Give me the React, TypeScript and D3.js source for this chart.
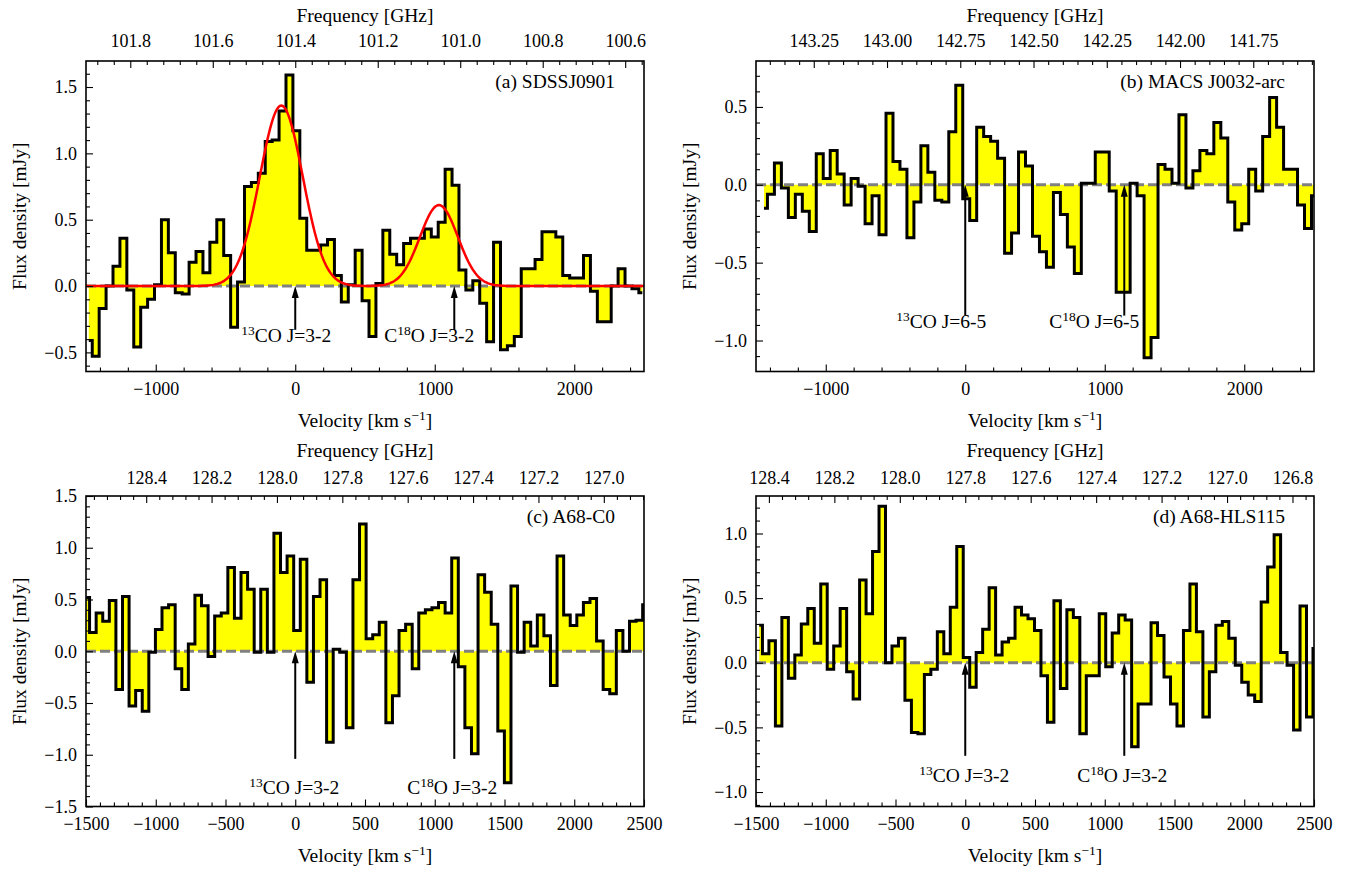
import { useEffect, useRef } from 'react';
import * as d3 from 'd3';

const C_KMS = 299792.458;
const VELOCITY_RANGE = [-1500, 2500];
const FONT = "'Liberation Serif', 'Times New Roman', serif";
const TICK_SIZE = 18;
const LABEL_SIZE = 19.5;

// spectra in mJy, one value per channel
const fluxSDSSJ0901 = [
  -0.41, -0.53, -0.17, 0.0, 0.15, 0.36, -0.03, -0.46, -0.16, -0.1,
  0.01, 0.5, 0.25, -0.05, -0.06, 0.18, 0.26, 0.1, 0.33, 0.5,
  0.23, -0.31, 0.03, 0.75, 0.78, 0.85, 1.09, 1.1, 1.32, 1.59,
  1.17, 0.51, 0.27, 0.27, 0.31, 0.35, 0.08, -0.12, 0.01, 0.27,
  -0.11, -0.38, 0.02, 0.42, 0.24, 0.16, 0.32, 0.36, 0.36, 0.43,
  0.37, 0.48, 0.88, 0.76, 0.12, -0.03, 0.04, -0.13, -0.42, 0.33,
  -0.48, -0.45, -0.38, 0.13, 0.13, 0.2, 0.41, 0.41, 0.37, 0.08,
  0.06, 0.06, 0.23, -0.04, -0.27, -0.27, 0.0, 0.13, 0.0, -0.02,
  -0.05,
];
const fluxMACS0032 = [
  -0.15, -0.06, 0.14, -0.02, -0.21, -0.06, -0.17, -0.3, 0.2, 0.04,
  0.22, 0.07, -0.13, 0.04, -0.01, -0.25, -0.07, -0.32, 0.46, 0.15,
  0.1, -0.34, -0.11, 0.25, 0.08, -0.1, -0.11, 0.34, 0.64, -0.09,
  -0.23, 0.37, 0.31, 0.28, 0.17, -0.44, -0.31, 0.21, 0.12, -0.33,
  -0.43, -0.53, -0.05, -0.19, -0.4, -0.57, 0.01, 0.01, 0.21, 0.21,
  -0.04, -0.69, -0.69, 0.01, -0.07, -1.11, -0.98, 0.13, 0.1, 0.01,
  0.45, -0.02, 0.09, 0.22, 0.2, 0.4, 0.3, -0.11, -0.29, -0.25,
  0.1, -0.04, 0.31, 0.56, 0.37, 0.1, 0.1, -0.13, -0.28, -0.07,
];
const fluxA68C0 = [
  0.52, 0.18, 0.37, 0.29, 0.49, -0.37, 0.53, -0.53, -0.38, -0.58,
  -0.01, 0.21, 0.42, 0.45, -0.17, -0.37, 0.07, 0.54, 0.44, -0.05,
  0.34, 0.37, 0.81, 0.32, 0.76, 0.6, -0.01, 0.6, -0.01, 1.14,
  0.76, 0.92, 0.2, 0.89, -0.3, 0.53, 0.69, -0.88, 0.02, -0.01,
  -0.74, 0.69, 1.23, 0.12, 0.16, 0.28, -0.69, -0.43, 0.2, 0.26,
  -0.17, 0.37, 0.4, 0.42, 0.47, 0.37, 0.9, -0.15, -0.74, -0.99,
  0.74, 0.57, 0.26, -0.77, -1.27, 0.63, -0.01, 0.28, 0.05, 0.35,
  0.15, -0.33, 0.92, 0.35, 0.25, 0.35, 0.47, 0.51, 0.1, -0.37,
  -0.41, 0.2, 0.0, 0.29, 0.3, 0.45,
];
const fluxA68HLS115 = [
  0.29, 0.07, 0.17, -0.49, 0.35, -0.12, 0.06, 0.3, 0.42, 0.15,
  0.61, -0.05, 0.13, 0.42, -0.07, -0.28, 0.64, 0.38, 0.86, 1.21,
  0.0, 0.13, 0.19, -0.29, -0.54, -0.55, -0.09, -0.05, 0.24, 0.07,
  0.43, 0.9, 0.04, -0.19, 0.08, 0.26, 0.58, 0.06, 0.16, 0.19,
  0.43, 0.37, 0.34, 0.25, -0.1, -0.46, 0.48, -0.2, 0.41, 0.35,
  -0.55, -0.1, -0.1, 0.38, -0.03, 0.23, 0.37, 0.33, -0.65, -0.32,
  -0.32, 0.31, 0.21, -0.11, -0.32, -0.49, 0.25, 0.61, 0.24, -0.42,
  -0.07, 0.29, 0.32, 0.19, -0.02, -0.15, -0.25, -0.3, 0.47, 0.74,
  0.99, 0.08, -0.02, -0.52, 0.44, -0.42, 0.11,
];

// centre of first channel and channel width, km/s
const firstChannel = [-1480, -1443, -1498, -1477];
const channelWidth = [49.6, 50, 47.2, 46.43];

// gaussian fits to SDSSJ0901 (13CO, C18O)
const fitAmp = [1.36, 0.61];
const fitCentre = [-100, 1030];
const fitSigma = [154, 136];

// 13CO at 0, C18O offset in km/s
const lineVelocity = [0, 1140];

const panelNames = ['(a) SDSSJ0901', '(b) MACS J0032-arc', '(c) A68-C0', '(d) A68-HLS115'];
const transitions = ['J=3-2', 'J=6-5', 'J=3-2', 'J=3-2'];
// observed frequency (GHz) of 13CO at v = 0
const nuZero = [101.4, 142.733, 127.944, 127.8];

const spectra = [fluxSDSSJ0901, fluxMACS0032, fluxA68C0, fluxA68HLS115];

const layout = [
  { left: 86, top: 61, yDomain: [-0.644, 1.696], yTicks: [-0.5, 0, 0.5, 1, 1.5], xStep: 1000, xMinor: 200, fStep: 0.2, fMinor: 0.04, fFmt: '.1f', fPad: 14, tail: -0.33, textY: -0.42, textDx: [-9, -25] },
  { left: 756, top: 61, yDomain: [-1.199, 0.795], yTicks: [-1, -0.5, 0, 0.5], xStep: 1000, xMinor: 200, fStep: 0.25, fMinor: 0.05, fFmt: '.2f', fPad: 14, tail: -0.84, textY: -0.92, textDx: [-24, -30] },
  { left: 86, top: 496, yDomain: [-1.5, 1.5], yTicks: [-1.5, -1, -0.5, 0, 0.5, 1, 1.5], xStep: 500, xMinor: 100, fStep: 0.2, fMinor: 0.04, fFmt: '.1f', fPad: 12.5, tail: -1.04, textY: -1.38, textDx: [-1, -2] },
  { left: 756, top: 496, yDomain: [-1.112, 1.29], yTicks: [-1, -0.5, 0, 0.5, 1], xStep: 500, xMinor: 100, fStep: 0.2, fMinor: 0.04, fFmt: '.1f', fPad: 12.5, tail: -0.72, textY: -0.92, textDx: [-1, -2] },
];
const PANEL_W = 558;
const PANEL_H = 310.5;

const rangeStep = (lo: number, hi: number, step: number) => {
  const out: number[] = [];
  for (let k = Math.ceil(lo / step - 1e-6); k * step <= hi + 1e-6; k++) out.push(+(k * step).toFixed(6));
  return out;
};

const richText = (g: any, x: number, y: number, parts: [string, boolean][], anchor = 'middle') => {
  const t = g.append('text').attr('x', x).attr('y', y).attr('text-anchor', anchor)
    .attr('font-family', FONT).attr('font-size', LABEL_SIZE).attr('fill', '#000');
  let up = false;
  parts.forEach(([s, sup]) => {
    const ts = t.append('tspan').text(s);
    if (sup) {
      ts.attr('font-size', 13.5);
      if (!up) { ts.attr('dy', -7); up = true; }
    } else if (up) {
      ts.attr('dy', 7);
      up = false;
    }
  });
  return t;
};

const styleAxis = (g: any) => {
  g.select('.domain').remove();
  g.attr('font-family', FONT).attr('font-size', TICK_SIZE);
  g.selectAll('line').attr('stroke', '#000').attr('stroke-width', 1.1);
};

function drawPanel(svg: any, i: number) {
  const p = layout[i];
  const flux = spectra[i];
  const right = p.left + PANEL_W;
  const bottom = p.top + PANEL_H;
  const x = d3.scaleLinear().domain(VELOCITY_RANGE).range([p.left, right]);
  const y = d3.scaleLinear().domain(p.yDomain).range([bottom, p.top]);
  const pts: [number, number][] = flux.map((f, k) => [firstChannel[i] + k * channelWidth[i], f]);

  const g = svg.append('g');
  const clipId = `clip-${i}`;
  g.append('clipPath').attr('id', clipId).append('rect')
    .attr('x', p.left).attr('y', p.top).attr('width', PANEL_W).attr('height', PANEL_H);
  const plot = g.append('g').attr('clip-path', `url(#${clipId})`);

  const areaGen = d3.area<[number, number]>().curve(d3.curveStep)
    .x((d) => x(d[0])).y0(y(0)).y1((d) => y(d[1]));
  plot.append('path').datum(pts).attr('d', areaGen).attr('fill', '#ffff00');

  plot.append('line').attr('x1', p.left).attr('x2', right).attr('y1', y(0)).attr('y2', y(0))
    .attr('stroke', '#808080').attr('stroke-width', 3).attr('stroke-dasharray', '10,4');

  const lineGen = d3.line<[number, number]>().curve(d3.curveStep).x((d) => x(d[0])).y((d) => y(d[1]));
  plot.append('path').datum(pts).attr('d', lineGen).attr('fill', 'none')
    .attr('stroke', '#000').attr('stroke-width', 3).attr('stroke-linejoin', 'miter');

  if (i === 0) {
    const vs = d3.range(VELOCITY_RANGE[0], VELOCITY_RANGE[1] + 1, 10);
    const model: [number, number][] = vs.map((v) => [v, d3.sum(fitAmp, (a, j) =>
      a * Math.exp(-0.5 * ((v - fitCentre[j]) / fitSigma[j]) ** 2))]);
    plot.append('path').datum(model).attr('d', d3.line<[number, number]>().x((d) => x(d[0])).y((d) => y(d[1])))
      .attr('fill', 'none').attr('stroke', '#ff0000').attr('stroke-width', 2.5);
  }

  // line markers
  lineVelocity.forEach((lv, j) => {
    const ax = x(lv);
    const tip = y(0);
    g.append('line').attr('x1', ax).attr('x2', ax).attr('y1', y(p.tail)).attr('y2', tip + 10)
      .attr('stroke', '#000').attr('stroke-width', 2);
    g.append('path').attr('d', `M${ax},${tip}L${ax - 3.5},${tip + 12}L${ax + 3.5},${tip + 12}Z`).attr('fill', '#000');
    const parts: [string, boolean][] = j === 0
      ? [['13', true], ['CO ' + transitions[i], false]]
      : [['C', false], ['18', true], ['O ' + transitions[i], false]];
    richText(g, ax + p.textDx[j], y(p.textY), parts);
  });

  g.append('rect').attr('x', p.left).attr('y', p.top).attr('width', PANEL_W).attr('height', PANEL_H)
    .attr('fill', 'none').attr('stroke', '#000').attr('stroke-width', 1.6);

  // velocity axis
  const vMajor = rangeStep(VELOCITY_RANGE[0], VELOCITY_RANGE[1], p.xStep);
  const vMinor = rangeStep(VELOCITY_RANGE[0], VELOCITY_RANGE[1], p.xMinor).filter((v) => !vMajor.includes(v));
  const xa = g.append('g').attr('transform', `translate(0,${bottom})`)
    .call(d3.axisBottom(x).tickValues(vMajor.filter((v) => v > VELOCITY_RANGE[0] || i >= 2)).tickSize(-7).tickPadding(11).tickFormat(d3.format('d')));
  styleAxis(xa);
  const xm = g.append('g').attr('transform', `translate(0,${bottom})`)
    .call(d3.axisBottom(x).tickValues(vMinor).tickSize(-4).tickFormat(() => ''));
  styleAxis(xm);

  // flux axis
  const yMinor = rangeStep(p.yDomain[0], p.yDomain[1], 0.1).filter((v) => !p.yTicks.some((t) => Math.abs(t - v) < 1e-6));
  const ya = g.append('g').attr('transform', `translate(${p.left},0)`)
    .call(d3.axisLeft(y).tickValues(p.yTicks).tickSize(-7).tickPadding(9).tickFormat(d3.format('.1f')));
  styleAxis(ya);
  const ym = g.append('g').attr('transform', `translate(${p.left},0)`)
    .call(d3.axisLeft(y).tickValues(yMinor).tickSize(-4).tickFormat(() => ''));
  styleAxis(ym);

  // frequency axis
  const nuAt = (v: number) => nuZero[i] * (1 - v / C_KMS);
  const f = d3.scaleLinear().domain([nuAt(VELOCITY_RANGE[0]), nuAt(VELOCITY_RANGE[1])]).range([p.left, right]);
  const fLo = nuAt(VELOCITY_RANGE[1]);
  const fHi = nuAt(VELOCITY_RANGE[0]);
  const fMajor = rangeStep(fLo, fHi, p.fStep);
  const fMinorT = rangeStep(fLo, fHi, p.fMinor).filter((v) => !fMajor.some((t) => Math.abs(t - v) < 1e-6));
  const fa = g.append('g').attr('transform', `translate(0,${p.top})`)
    .call(d3.axisTop(f).tickValues(fMajor).tickSize(-7).tickPadding(p.fPad).tickFormat(d3.format(p.fFmt)));
  styleAxis(fa);
  const fm = g.append('g').attr('transform', `translate(0,${p.top})`)
    .call(d3.axisTop(f).tickValues(fMinorT).tickSize(-4).tickFormat(() => ''));
  styleAxis(fm);

  // titles
  const cx = p.left + PANEL_W / 2;
  richText(g, cx, p.top - 39.5, [['Frequency [GHz]', false]]);
  richText(g, cx, bottom + 55.5, [['Velocity [km s', false], ['\u22121', true], [']', false]]);
  richText(g, 0, 0, [['Flux density [mJy]', false]])
    .attr('transform', `translate(${p.left - 60.5},${p.top + PANEL_H / 2}) rotate(-90)`);
  richText(g, right - 29, p.top + 27, [[panelNames[i], false]], 'end');
}

export default function App() {
  const svgRef = useRef<SVGSVGElement>(null);

  useEffect(() => {
    const svg = d3.select(svgRef.current);
    svg.selectAll('*').remove();
    spectra.forEach((_, i) => drawPanel(svg, i));
  }, []);

  return (
    <svg
      ref={svgRef}
      width={1351}
      height={869}
      style={{ position: 'absolute', left: 0, top: 0, background: '#fff' }}
    />
  );
}
